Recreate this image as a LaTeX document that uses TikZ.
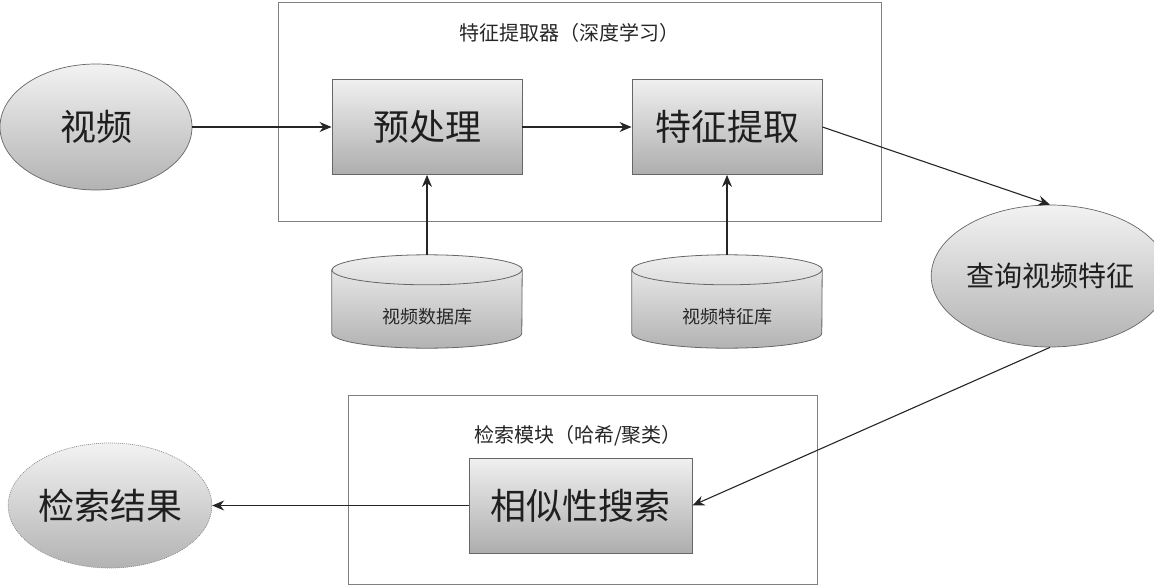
\documentclass[tikz,border=0pt]{standalone}
\usepackage{fontspec}
\newfontfamily\cjk{Noto Sans CJK SC}
\usetikzlibrary{shapes.geometric,arrows.meta,backgrounds}
\begin{document}
\begin{tikzpicture}[x=1pt,y=-1pt,
  bigtxt/.style={font=\cjk\fontsize{36pt}{40pt}\selectfont, text=black!88},
  midtxt/.style={font=\cjk\fontsize{28pt}{32pt}\selectfont, text=black!88},
  smalltxt/.style={font=\cjk\fontsize{20pt}{24pt}\selectfont, text=black!85},
  cyltxt/.style={font=\cjk\fontsize{18pt}{22pt}\selectfont, text=black!85},
  procbox/.style={bigtxt, draw=black!60, line width=0.9pt, top color=black!6, bottom color=black!32,
    minimum height=95pt, inner sep=0pt},
  ell/.style={ellipse, draw=black!60, line width=0.7pt, top color=black!5, bottom color=black!30, inner sep=0pt},
  frame/.style={draw=black!50, line width=0.9pt, inner sep=0pt},
  cylbody/.style={draw=black!60, line width=0.8pt, top color=black!6, bottom color=black!30},
  arr/.style={-{Stealth[length=12pt,width=10pt]}, line width=1.1pt, black!85},
]
\useasboundingbox (0,0) rectangle (1154,586);

% containers
\node[frame, minimum width=603pt, minimum height=219pt] (fx) at (579.5,111.5) {};
\node[smalltxt] (fxlabel) at (569,33) {特征提取器（深度学习）};
\node[frame, minimum width=469pt, minimum height=189pt] (rt) at (582.5,489.5) {};
\node[smalltxt] (rtlabel) at (578,436) {检索模块（哈希/聚类）};

% main nodes
\node[ell, bigtxt, minimum width=192pt, minimum height=126pt] (video) at (96,127) {视频};
\node[procbox, minimum width=190pt] (pre) at (427,127) {预处理};
\node[procbox, minimum width=190pt] (feat) at (727,127) {特征提取};
\node[ell, midtxt, minimum width=204pt, minimum height=142pt] (query) at (1050,276) {查询视频特征};
\node[procbox, minimum width=223pt] (search) at (580.5,505.5) {相似性搜索};
\node[ell, bigtxt, draw=black!45, dash pattern=on 1pt off 1pt, minimum width=190pt, minimum height=125pt] (result) at (110,505.5) {检索结果};

% databases (node = body below the top ellipse)
\node[cyltxt, minimum width=190pt, minimum height=63pt, inner sep=0pt] (db1) at (427,316.5) {视频数据库};
\node[cyltxt, minimum width=190pt, minimum height=63pt, inner sep=0pt] (db2) at (727,316.5) {视频特征库};

\begin{pgfonlayer}{background}
\foreach \c in {db1,db2}{
  \path[cylbody] ([yshift=15pt]\c.north west) -- ([yshift=15pt]\c.south west)
    arc[start angle=180,end angle=360,x radius=95pt,y radius=15pt]
    -- ([yshift=15pt]\c.north east)
    arc[start angle=0,end angle=180,x radius=95pt,y radius=15pt] -- cycle;
  \draw[draw=black!60, line width=0.8pt] ([yshift=15pt]\c.north west)
    arc[start angle=180,end angle=360,x radius=95pt,y radius=15pt];
}
\end{pgfonlayer}

% connectors
\draw[arr] (video) -- (pre);
\draw[arr] (pre) -- (feat);
\draw[arr] (feat.east) -- (query.north);
\draw[arr] ([yshift=30pt]db1.north) -- (pre.south);
\draw[arr] ([yshift=30pt]db2.north) -- (feat.south);
\draw[arr] (query.south) -- (search.east);
\draw[arr] (search.west) -- (result.east);
\end{tikzpicture}
\end{document}
